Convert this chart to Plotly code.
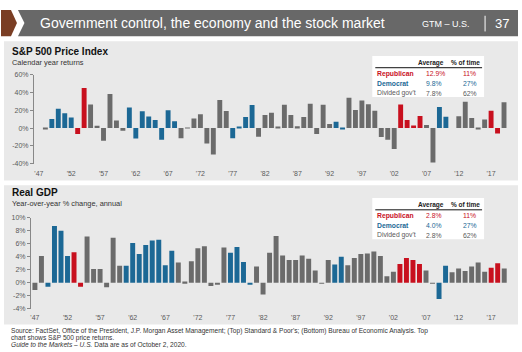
import plotly.graph_objects as go

W, H = 522, 352

years = list(range(1947, 2020))

# Party control per year: R = Republican, D = Democrat, G = divided government
control = (["G"] * 2 + ["D"] * 4 + ["R"] * 2 + ["G"] * 6 + ["D"] * 8 + ["G"] * 8 +
           ["D"] * 4 + ["G"] * 12 + ["D"] * 2 + ["G"] * 8 + ["R"] * 4 + ["G"] * 2 +
           ["D"] * 2 + ["G"] * 6 + ["R"] * 2 + ["G"] * 1)

sp500 = [0.0, -0.7, 10.3, 21.8, 16.5, 11.8, -6.6, 45.0, 26.4, 2.6,
         -14.3, 38.1, 8.5, -3.0, 23.1, -11.8, 18.9, 13.0, 9.1, -13.1,
         20.1, 7.7, -11.4, 0.1, 10.8, 15.6, -17.4, -29.7, 31.5, 19.1,
         -11.5, 1.1, 12.3, 25.8, -9.7, 14.8, 17.3, 1.4, 26.3, 14.6,
         2.0, 12.4, 27.3, -6.6, 26.3, 4.5, 7.1, -1.5, 34.1, 20.3,
         31.0, 26.7, 19.5, -10.1, -13.0, -23.4, 26.4, 9.0, 3.0, 13.6,
         3.5, -38.5, 23.5, 12.8, 0.0, 13.4, 29.6, 11.4, -0.7, 9.5,
         19.4, -6.2, 28.9]

gdp = [-1.1, 4.1, -0.6, 8.7, 8.0, 4.1, 4.7, -0.6, 7.1, 2.1,
       2.1, -0.7, 6.9, 2.6, 2.6, 6.1, 4.4, 5.8, 6.5, 6.6,
       2.7, 4.9, 3.1, 0.2, 3.3, 5.3, 5.6, -0.5, -0.2, 5.4,
       4.6, 5.5, 3.2, -0.3, 2.5, -1.8, 4.6, 7.2, 4.2, 3.5,
       3.5, 4.2, 3.7, 1.9, -0.1, 3.5, 2.8, 4.0, 2.7, 3.8,
       4.4, 4.5, 4.8, 4.1, 1.0, 1.7, 2.9, 3.8, 3.5, 2.9,
       1.9, -0.1, -2.5, 2.6, 1.6, 2.2, 1.8, 2.5, 3.1, 1.7,
       2.3, 3.0, 2.2]

xtick_vals = list(range(1947, 2020, 5))
xtick_text = ["'" + str(y)[2:] for y in xtick_vals]

sp_ticks = [-40, -20, 0, 20, 40, 60]
gdp_ticks = [-4, -2, 0, 2, 4, 6, 8, 10]

legend_rows = ["Republican", "Democrat", "Divided gov't"]
sp_avg = ["12.9%", "9.8%", "7.8%"]
gdp_avg = ["2.8%", "4.0%", "2.8%"]
pct_time = ["11%", "27%", "62%"]

RED, BLUE, GRAY = "#c8101e", "#1c6895", "#6b6b6b"
cmap = {"R": RED, "D": BLUE, "G": GRAY}
row_colors = [RED, BLUE, "#595959"]
colors = [cmap[c] for c in control]

FONT = "Liberation Sans, Arial, sans-serif"


def X(px):
    return px / W


def Y(py):
    return 1 - py / H


fig = go.Figure()
fig.add_trace(go.Bar(x=years, y=sp500, marker=dict(color=colors, line=dict(width=0)),
                     width=0.76, xaxis="x", yaxis="y", showlegend=False))
fig.add_trace(go.Bar(x=years, y=gdp, marker=dict(color=colors, line=dict(width=0)),
                     width=0.76, xaxis="x2", yaxis="y2", showlegend=False))

tickfont = dict(family=FONT, size=7, color="#5a5a5a")

fig.update_layout(
    width=W, height=H, margin=dict(l=0, r=0, t=0, b=0),
    paper_bgcolor="white", plot_bgcolor="rgba(0,0,0,0)",
    font=dict(family=FONT),
    xaxis=dict(domain=[X(33), X(510)], range=[1946.23, 2019.93], anchor="y",
               tickvals=xtick_vals, ticktext=xtick_text, tickfont=tickfont,
               showgrid=False, zeroline=False, showline=False,
               ticks="outside", ticklen=3, tickcolor="rgba(0,0,0,0)"),
    yaxis=dict(domain=[Y(163), Y(72)], range=[-40, 60], anchor="x",
               tickvals=sp_ticks, ticktext=[f"{v}%" for v in sp_ticks], tickfont=tickfont,
               showgrid=False, zeroline=False, showline=True, linecolor="#888888", linewidth=1,
               ticks="outside", ticklen=3, tickcolor="#888888"),
    xaxis2=dict(domain=[X(30), X(510)], range=[1946.39, 2019.89], anchor="y2",
                tickvals=xtick_vals, ticktext=xtick_text, tickfont=tickfont,
                showgrid=False, zeroline=False, showline=False,
                ticks="outside", ticklen=2, tickcolor="rgba(0,0,0,0)"),
    yaxis2=dict(domain=[Y(311), Y(218)], range=[-4, 10], anchor="x2",
                tickvals=gdp_ticks, ticktext=[f"{v}%" for v in gdp_ticks], tickfont=tickfont,
                showgrid=False, zeroline=False, showline=True, linecolor="#888888", linewidth=1,
                ticks="outside", ticklen=3, tickcolor="#888888"),
    bargap=0.2,
)

shapes = []
# panel backgrounds
shapes.append(dict(type="rect", xref="paper", yref="paper", x0=X(3), x1=X(518), y0=Y(180), y1=Y(38),
                   fillcolor="#e9e9e9", line=dict(width=0), layer="below"))
shapes.append(dict(type="rect", xref="paper", yref="paper", x0=X(3), x1=X(518), y0=Y(327), y1=Y(185),
                   fillcolor="#e9e9e9", line=dict(width=0), layer="below"))
# header band
shapes.append(dict(type="path", xref="paper", yref="paper",
                   path=f"M {X(0)},{Y(6)} L {X(10)},{Y(6)} L {X(16)},{Y(19.5)} L {X(10)},{Y(33)} L {X(0)},{Y(33)} Z",
                   fillcolor="#7a3e24", line=dict(width=0)))
shapes.append(dict(type="path", xref="paper", yref="paper",
                   path=f"M {X(17)},{Y(6)} L {X(518)},{Y(6)} L {X(518)},{Y(33)} L {X(17)},{Y(33)} L {X(23.5)},{Y(19.5)} Z",
                   fillcolor="#686868", line=dict(width=0)))
shapes.append(dict(type="line", xref="paper", yref="paper", x0=X(485), x1=X(485), y0=Y(12), y1=Y(28),
                   line=dict(color="white", width=1)))

ann = []


def text(px, py, s, size, color="#222222", anchor="left", bold=False, italic=False):
    if bold:
        s = f"<b>{s}</b>"
    if italic:
        s = f"<i>{s}</i>"
    ann.append(dict(x=X(px), y=Y(py), xref="paper", yref="paper", text=s, showarrow=False,
                    xanchor=anchor, yanchor="middle",
                    font=dict(family=FONT, size=size, color=color)))


# header texts
text(37, 19.5, "Government control, the economy and the stock market", 14, "white")
text(420, 20.5, "GTM – U.S.", 9, "white")
text(493, 19.5, "37", 13, "white")

# panel titles
text(9, 48, "S&P 500 Price Index", 10, "#111111", bold=True)
text(9, 59.5, "Calendar year returns", 7.4, "#333333")
text(9, 192.5, "Real GDP", 10, "#111111", bold=True)
text(9, 203.5, "Year-over-year % change, annual", 7.4, "#333333")


def legend_table(top, avgs):
    shapes.append(dict(type="rect", xref="paper", yref="paper", x0=X(372), x1=X(484),
                       y0=Y(top + 42), y1=Y(top), fillcolor="white", line=dict(width=0)))
    shapes.append(dict(type="line", xref="paper", yref="paper", x0=X(375), x1=X(482),
                       y0=Y(top + 12), y1=Y(top + 12), line=dict(color="#111111", width=1)))
    text(446, top + 7, "Average", 6.5, "#222222", anchor="right", bold=True)
    text(449, top + 7, "% of time", 6.5, "#222222", anchor="left", bold=True)
    for i, (lab, a, p) in enumerate(zip(legend_rows, avgs, pct_time)):
        yy = top + 18 + 10 * i
        c = row_colors[i]
        text(375, yy, lab, 6.8, c, bold=(i < 2))
        text(424, yy, a, 6.8, c)
        text(461, yy, p, 6.8, c)


legend_table(53, sp_avg)
legend_table(198, gdp_avg)

# footer
text(8, 333.5, "Source: FactSet, Office of the President, J.P. Morgan Asset Management; (Top) Standard &amp; Poor's; (Bottom) Bureau of Economic Analysis. Top", 6.6, "#333333")
text(8, 340.5, "chart shows S&amp;P 500 price returns.", 6.6, "#333333")
text(8, 347.5, "<i>Guide to the Markets – U.S.</i> Data are as of October 2, 2020.", 6.6, "#333333")

fig.update_layout(shapes=shapes, annotations=ann)
fig.write_html("out.html")
